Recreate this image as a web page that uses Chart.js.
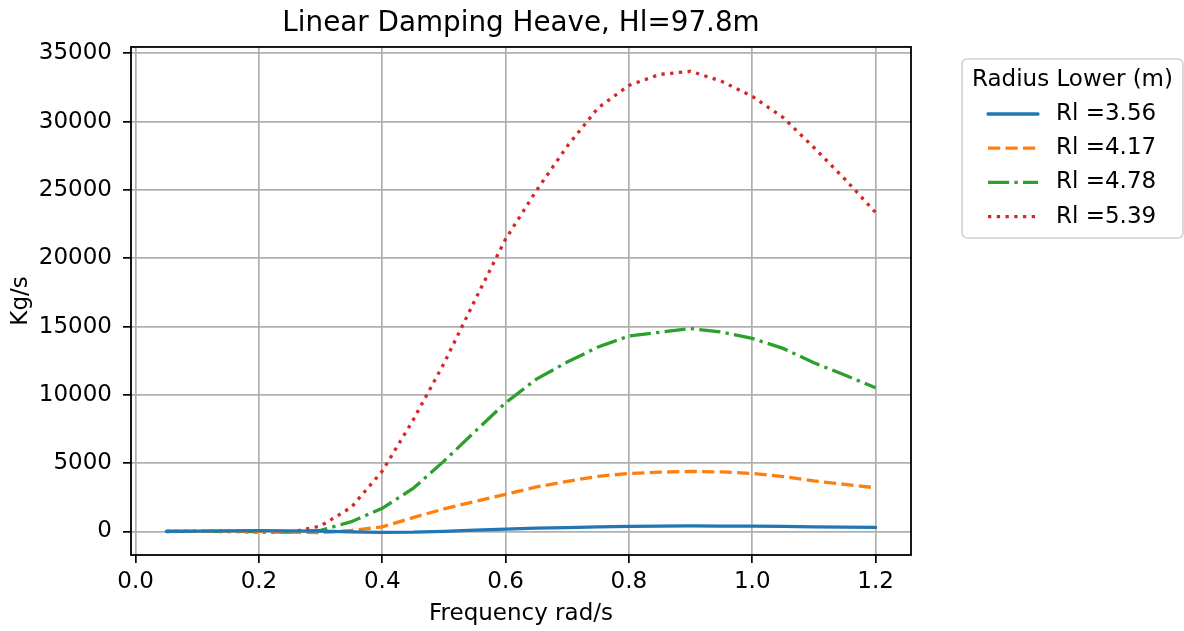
<!DOCTYPE html>
<html>
<head>
<meta charset="utf-8">
<script src="https://cdn.jsdelivr.net/npm/chart.js@4/dist/chart.umd.min.js"></script>
<style>
  html, body { margin: 0; padding: 0; background: #ffffff; }
  #wrap { width: 1184px; height: 631px; }
</style>
</head>
<body>
<div id="wrap"><canvas id="chart" width="1184" height="631"></canvas></div>
<script>
// Frequency grid (rad/s)
const frequency = [0.05, 0.10, 0.15, 0.20, 0.25, 0.30, 0.35, 0.40, 0.45, 0.50, 0.55, 0.60,
                   0.65, 0.70, 0.75, 0.80, 0.85, 0.90, 0.95, 1.00, 1.05, 1.10, 1.15, 1.20];

// Linear heave damping (kg/s) for each lower radius
const dampRl356 = [10, 30, 50, 60, 50, 20, -30, -60, -50, 10, 100, 180,
                   240, 290, 340, 380, 400, 410, 400, 390, 370, 340, 320, 300];
const dampRl417 = [5, 15, 20, 10, -40, -80, 80, 340, 1020, 1650, 2200, 2720,
                   3260, 3670, 4040, 4250, 4340, 4400, 4360, 4250, 4020, 3700, 3450, 3200];
const dampRl478 = [5, 10, 15, 0, -50, 80, 720, 1700, 3150, 5150, 7300, 9420,
                   11150, 12400, 13500, 14300, 14580, 14850, 14600, 14130, 13400, 12350, 11450, 10520];
const dampRl539 = [0, 5, 0, -40, -60, 400, 1780, 4420, 8150, 12300, 16900, 21400,
                   24950, 28200, 31000, 32650, 33450, 33680, 32950, 31850, 30300, 28100, 25800, 23350];

const seriesLabels = ['Rl =3.56', 'Rl =4.17', 'Rl =4.78', 'Rl =5.39'];
const xTicks = [0.0, 0.2, 0.4, 0.6, 0.8, 1.0, 1.2];
const yTicks = [0, 5000, 10000, 15000, 20000, 25000, 30000, 35000];

const FONT = 'DejaVu Sans';
const FS = 23;      // tick, axis-label and legend text size
const TITLE_FS = 27.8;
const LW = 3.3;

const toPoints = (ys) => frequency.map((f, i) => ({ x: f, y: ys[i] }));

const styles = [
  { color: '#1f77b4', dash: [] },
  { color: '#ff7f0e', dash: [3.7 * LW, 1.6 * LW] },
  { color: '#2ca02c', dash: [6.4 * LW, 1.6 * LW, 1 * LW, 1.6 * LW] },
  { color: '#d62728', dash: [1 * LW, 1.65 * LW] }
];
const allSeries = [dampRl356, dampRl417, dampRl478, dampRl539];

const datasets = allSeries.map((ys, i) => ({
  label: seriesLabels[i],
  data: toPoints(ys),
  borderColor: styles[i].color,
  backgroundColor: styles[i].color,
  borderDash: styles[i].dash,
  borderWidth: LW,
  borderCapStyle: i === 0 ? 'round' : 'butt',
  pointRadius: 0,
  tension: 0,
  fill: false
}));

// Black frame round the plot area
const framePlugin = {
  id: 'frame',
  afterDatasetsDraw(chart) {
    const { ctx, chartArea: a } = chart;
    ctx.save();
    ctx.strokeStyle = '#000000';
    ctx.lineWidth = 1.8;
    ctx.setLineDash([]);
    ctx.strokeRect(a.left, a.top, a.right - a.left, a.bottom - a.top);
    ctx.restore();
  }
};

// Legend box outside the plot, with line samples in each series' dash style
const legendPlugin = {
  id: 'sideLegend',
  afterDraw(chart) {
    const { ctx } = chart;
    const box = { x: 962, y: 59, w: 221, h: 179, r: 5 };
    ctx.save();
    ctx.beginPath();
    ctx.roundRect(box.x, box.y, box.w, box.h, box.r);
    ctx.fillStyle = 'rgba(255,255,255,0.8)';
    ctx.fill();
    ctx.strokeStyle = '#d0d0d0';
    ctx.lineWidth = 1.6;
    ctx.stroke();

    ctx.fillStyle = '#000000';
    ctx.font = FS + 'px "' + FONT + '"';
    ctx.textBaseline = 'middle';
    ctx.textAlign = 'center';
    ctx.fillText('Radius Lower (m)', box.x + box.w / 2, 80);

    ctx.textAlign = 'left';
    chart.data.datasets.forEach((ds, i) => {
      const y = 114 + i * 34.2;
      ctx.beginPath();
      ctx.setLineDash(ds.borderDash || []);
      ctx.lineCap = ds.borderCapStyle;
      ctx.strokeStyle = ds.borderColor;
      ctx.lineWidth = LW;
      ctx.moveTo(988, y);
      ctx.lineTo(1038, y);
      ctx.stroke();
      ctx.setLineDash([]);
      ctx.fillStyle = '#000000';
      ctx.fillText(ds.label, 1056, y);
    });
    ctx.restore();
  }
};

new Chart(document.getElementById('chart'), {
  type: 'line',
  data: { datasets },
  options: {
    responsive: false,
    animation: false,
    devicePixelRatio: 1,
    layout: { padding: { left: 0, right: 273, top: 0, bottom: 0 } },
    plugins: {
      legend: { display: false },
      tooltip: { enabled: false },
      title: {
        display: true,
        fullSize: false,
        text: 'Linear Damping Heave, Hl=97.8m',
        color: '#000000',
        font: { family: FONT, size: TITLE_FS, weight: 'normal', lineHeight: 1.2 },
        padding: { top: 7, bottom: 6.6 }
      }
    },
    scales: {
      x: {
        type: 'linear',
        min: -0.0075,
        max: 1.2575,
        afterFit(scale) { scale.height = 76; },
        afterBuildTicks(scale) { scale.ticks = xTicks.map(v => ({ value: v })); },
        grid: { color: '#b0b0b0', lineWidth: 1.7, tickColor: '#000000', tickWidth: 1.7, tickLength: 8 },
        border: { display: false },
        ticks: {
          autoSkip: false, maxRotation: 0, color: '#000000', padding: 5,
          font: { family: FONT, size: FS },
          callback: (v) => Number(v).toFixed(1)
        },
        title: {
          display: true, text: 'Frequency rad/s', color: '#000000',
          font: { family: FONT, size: FS, lineHeight: 1.2 },
          padding: { top: 0, bottom: 3.5 }
        }
      },
      y: {
        type: 'linear',
        min: -1720,
        max: 35460,
        afterFit(scale) { scale.width = 131; },
        afterBuildTicks(scale) { scale.ticks = yTicks.map(v => ({ value: v })); },
        grid: { color: '#b0b0b0', lineWidth: 1.7, tickColor: '#000000', tickWidth: 1.7, tickLength: 8 },
        border: { display: false },
        ticks: {
          autoSkip: false, color: '#000000', padding: 11,
          font: { family: FONT, size: FS },
          callback: (v) => String(v)
        },
        title: {
          display: true, text: 'Kg/s', color: '#000000',
          font: { family: FONT, size: FS, lineHeight: 1.2 },
          padding: { top: 7, bottom: 0 }
        }
      }
    }
  },
  plugins: [framePlugin, legendPlugin]
});
</script>
</body>
</html>
